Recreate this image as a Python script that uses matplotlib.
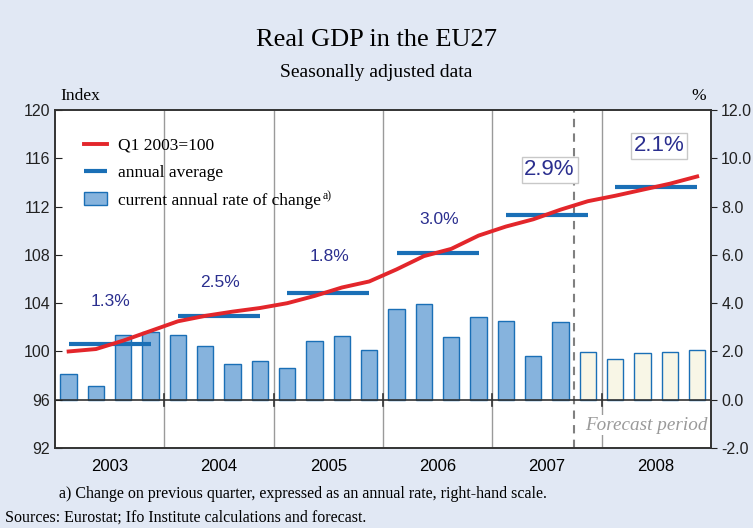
import matplotlib.pyplot as plt
import numpy as np

# --- data ---
years = ['2003', '2004', '2005', '2006', '2007', '2008']
# GDP index, Q1 2003 = 100, one value per quarter
gdp_index = [100.0, 100.2, 100.9, 101.7,
             102.5, 102.95, 103.3, 103.6,
             104.0, 104.6, 105.3, 105.8,
             106.8, 107.9, 108.5, 109.6,
             110.35, 110.95, 111.75, 112.45,
             112.9, 113.4, 113.9, 114.5]
# annual rate of change on previous quarter, % (right-hand scale)
qoq_rate = [1.05, 0.55, 2.68, 2.80,
            2.68, 2.22, 1.46, 1.62,
            1.33, 2.42, 2.62, 2.08,
            3.76, 3.95, 2.60, 3.44,
            3.28, 1.81, 3.21, 1.99,
            1.67, 1.92, 1.99, 2.07]
annual_avg = [100.65, 102.96, 104.88, 108.18, 111.33, 113.65]
growth_labels = ['1.3%', '2.5%', '1.8%', '3.0%', '2.9%', '2.1%']
label_y = [104.1, 105.7, 107.85, 110.9, 115.05, 117.05]
boxed = [False, False, False, False, True, True]
first_forecast = 19  # Q4 2007

bg = '#e1e8f4'
red = '#e3262b'
blue = '#1a6fb6'
bar_face = '#86b3dd'
fc_face = '#f8f6e6'
label_col = '#2b2f8f'

fig = plt.figure(figsize=(7.53, 5.28), dpi=100, facecolor=bg)
ax = fig.add_axes([0.073, 0.1515, 0.871, 0.640])
ax2 = ax.twinx()

q = np.arange(len(gdp_index))
faces = [bar_face if i < first_forecast else fc_face for i in q]
bars = ax.bar(q, qoq_rate, width=0.6, color=faces, edgecolor=blue, linewidth=1.0, zorder=3)
ax.set_ylim(-2, 12)
ax.set_xlim(-0.5, len(q) - 0.5)
ax.axhline(0, color='#333333', lw=1.2, zorder=4)

# year separators
bounds = np.arange(4, len(q), 4) - 0.5
for b in bounds:
    ax.axvline(b, color='#9a9a9a', lw=1.0, zorder=1)
    ax.plot([b, b], [-0.25, 0.25], color='#333333', lw=1.2, zorder=4)
ax.axvline(first_forecast - 0.5, color='#808080', lw=1.5, ls=(0, (4, 3)), zorder=2)
ax.text(len(q) - 0.62, -1.05, 'Forecast period', family='Liberation Serif', style='italic',
        color='#9a9a9a', fontsize=13.8, ha='right', va='center', zorder=5,
        bbox=dict(facecolor='white', edgecolor='none', pad=1))

ax.yaxis.tick_right()
ax.set_yticks(np.arange(-2, 13, 2))
ax.set_yticklabels([f'{v:.1f}' for v in np.arange(-2, 13, 2)])
ax.tick_params(axis='y', direction='out', length=4, labelsize=11.5, colors='#222222')
ax.set_xticks([i * 4 + 1.5 for i in range(len(years))])
ax.set_xticklabels(years, family='Liberation Sans', fontsize=12)
ax.tick_params(axis='x', length=0, pad=8)
for lab in ax.get_yticklabels():
    lab.set_family('Liberation Sans')

ax2.plot(q, gdp_index, color=red, lw=2.8, zorder=6, label='Q1 2003=100')
for i, avg in enumerate(annual_avg):
    ax2.plot([4 * i, 4 * i + 3], [avg, avg], color=blue, lw=3, zorder=5,
             solid_capstyle='butt', label='annual average' if i == 0 else None)
    if boxed[i]:
        ax2.text(4 * i + 1.6, label_y[i], growth_labels[i], family='Liberation Sans',
                 fontsize=16, color=label_col, ha='center', va='center', zorder=7,
                 bbox=dict(facecolor='white', edgecolor='#c8c8c8', pad=2))
    else:
        ax2.text(4 * i + 1.55, label_y[i], growth_labels[i], family='Liberation Sans',
                 fontsize=12.5, color=label_col, ha='center', va='center', zorder=7)
ax2.set_ylim(92, 120)
ax2.yaxis.tick_left()
ax2.set_yticks(np.arange(92, 121, 4))
ax2.tick_params(axis='y', direction='in', length=5, labelsize=11.5, colors='#222222')
for lab in ax2.get_yticklabels():
    lab.set_family('Liberation Sans')
ax2.set_zorder(ax.get_zorder() + 1)
ax2.patch.set_visible(False)

for a in (ax, ax2):
    for s in a.spines.values():
        s.set_color('#333333')
        s.set_linewidth(1.2)

handles = ax2.get_legend_handles_labels()[0] + [bars]
labels = ['Q1 2003=100', 'annual average', 'current annual rate of change']
leg = ax2.legend(handles, labels, loc='upper left', bbox_to_anchor=(0.02, 0.965), frameon=False,
                 prop={'family': 'Liberation Serif', 'size': 12.5}, handlelength=1.35,
                 handletextpad=0.6, labelspacing=0.65)
leg.legend_handles[2].set_facecolor(bar_face)

# small superscript note marker after the last legend entry
fig.canvas.draw()
ext = leg.get_texts()[2].get_window_extent()
fig.text((ext.x1 + 2) / fig.dpi / fig.get_figwidth(), (ext.y1 + 2) / fig.dpi / fig.get_figheight(),
         'a)', family='Liberation Serif', fontsize=8.5, ha='left', va='top')

fig.text(0.5, 0.925, 'Real GDP in the EU27', family='Liberation Serif', fontsize=19,
         ha='center', va='center')
fig.text(0.5, 0.862, 'Seasonally adjusted data', family='Liberation Serif', fontsize=14,
         ha='center', va='center')
fig.text(0.08, 0.818, 'Index', family='Liberation Serif', fontsize=12.5, ha='left', va='center')
fig.text(0.938, 0.818, '%', family='Liberation Serif', fontsize=12.5, ha='right', va='center')
fig.text(0.079, 0.064, 'a) Change on previous quarter, expressed as an annual rate, right-hand scale.',
         family='Liberation Serif', fontsize=11.5, ha='left', va='center')
fig.text(0.006, 0.019, 'Sources: Eurostat; Ifo Institute calculations and forecast.',
         family='Liberation Serif', fontsize=11.5, ha='left', va='center')

fig.savefig('out.png', dpi=100, facecolor=bg)
